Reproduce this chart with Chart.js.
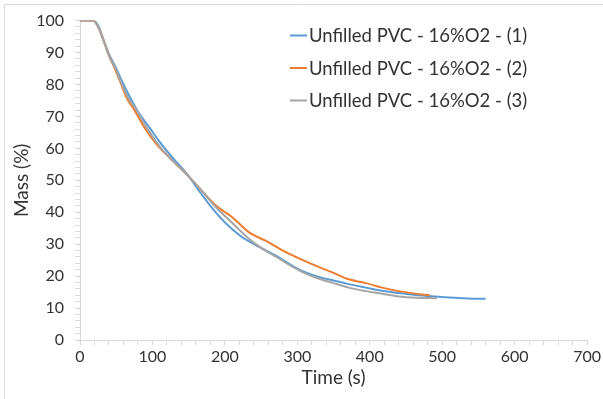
<!DOCTYPE html>
<html>
<head>
<meta charset="utf-8">
<script src="https://cdn.jsdelivr.net/npm/chart.js@4/dist/chart.umd.min.js"></script>
<style>
  html, body { margin: 0; padding: 0; background: #fff; }
  #wrap { width: 603px; height: 399px; }
</style>
</head>
<body>
<div id="wrap"><canvas id="c" width="603" height="399"></canvas></div>
<script>
const seriesLabels = [
  "Unfilled PVC - 16%O2 - (1)",
  "Unfilled PVC - 16%O2 - (2)",
  "Unfilled PVC - 16%O2 - (3)"
];
const seriesColors = ["#5B9BD5", "#ED7D31", "#A5A5A5"];

const time1 = [0, 18, 25, 33, 40, 48, 57, 69, 80, 96, 110, 128, 140, 151, 165, 180, 195, 211, 225, 240, 257, 275, 289, 305, 326, 350, 371, 395, 417, 440, 463, 490, 509, 535, 560];
const mass1 = [100, 100, 98.5, 93.7, 89.5, 86, 81.5, 76, 71.5, 66.5, 62, 57, 54, 51, 46.5, 42, 38, 34.5, 32, 30, 28, 25.8, 23.8, 21.8, 20, 18.6, 17.5, 16.4, 15.4, 14.7, 14.1, 13.6, 13.3, 13.0, 12.9];

const time2 = [0, 18, 25, 33, 40, 48, 57, 64, 75, 89, 105, 124, 140, 151, 165, 188, 211, 234, 257, 280, 300, 326, 350, 371, 395, 417, 440, 460, 483];
const mass2 = [100, 100, 98, 93.5, 89, 85, 80, 76, 72, 66.5, 61.5, 57, 53.5, 51, 47.5, 42, 38.3, 33.6, 31, 28, 25.8, 23.2, 21, 19, 17.8, 16.4, 15.3, 14.6, 14.0];

const time3 = [0, 18, 25, 33, 40, 48, 57, 66, 78, 92, 107, 124, 140, 151, 165, 188, 211, 234, 257, 275, 289, 305, 326, 350, 371, 395, 417, 440, 465, 493];
const mass3 = [100, 100, 98, 93.5, 89, 85.5, 80.5, 76, 72, 66.5, 61.5, 57, 53.5, 51, 47.5, 41.5, 36.5, 31.5, 27.8, 25.5, 23.5, 21.5, 19.5, 17.8, 16.4, 15.3, 14.5, 13.6, 13.2, 13.1];

const xTickMin = 0, xTickMax = 700, xMajor = 100, xMinor = 20;
const yTickMin = 0, yTickMax = 100, yMajor = 10, yMinor = 2;

const FONT = "Lato, 'Open Sans', sans-serif";
const TEXT = "#333333";
const AXIS = "#D9D9D9";

function pts(t, m) { return t.map((v, i) => ({ x: v, y: m[i] })); }

const times = [time1, time2, time3];
const masses = [mass1, mass2, mass3];

const datasets = seriesLabels.map((lab, i) => ({
  label: lab,
  data: pts(times[i], masses[i]),
  borderColor: seriesColors[i],
  backgroundColor: seriesColors[i],
  borderWidth: 2,
  pointRadius: 0,
  fill: false,
  cubicInterpolationMode: 'monotone',
  order: 2 - i
}));

const decor = {
  id: 'decor',
  beforeDraw(chart) {
    const ctx = chart.ctx;
    ctx.save();
    ctx.fillStyle = '#fff';
    ctx.fillRect(0, 0, chart.width, chart.height);
    ctx.strokeStyle = AXIS;
    ctx.lineWidth = 1;
    ctx.beginPath();
    ctx.moveTo(4.5, chart.height);
    ctx.lineTo(4.5, 4.5);
    ctx.lineTo(chart.width, 4.5);
    ctx.stroke();
    ctx.restore();
  },
  afterDraw(chart) {
    const ctx = chart.ctx;
    ctx.save();
    ctx.font = "18.5px " + FONT;
    ctx.textBaseline = 'middle';
    ctx.textAlign = 'left';
    chart.data.datasets.forEach((ds, i) => {
      const y = 35.5 + i * 32.5;
      ctx.strokeStyle = ds.borderColor;
      ctx.lineWidth = 2;
      ctx.beginPath();
      ctx.moveTo(290, y);
      ctx.lineTo(307, y);
      ctx.stroke();
      ctx.fillStyle = TEXT;
      ctx.fillText(ds.label, 309, y + 1);
    });
    ctx.restore();
  }
};

new Chart(document.getElementById('c'), {
  type: 'line',
  data: { datasets },
  plugins: [decor],
  options: {
    responsive: false,
    animation: false,
    layout: { padding: { top: 20, right: 14, left: 0, bottom: 0 } },
    plugins: { legend: { display: false }, tooltip: { enabled: false } },
    scales: {
      x: {
        type: 'linear',
        min: xTickMin, max: xTickMax,
        afterFit(s) { s.height = 59; },
        ticks: {
          stepSize: xMinor, autoSkip: false, maxRotation: 0,
          padding: 2,
          color: TEXT, font: { family: FONT, size: 16 },
          callback: v => (v % xMajor === 0 ? String(v) : '')
        },
        grid: { drawOnChartArea: false, drawTicks: true, tickLength: 5, color: AXIS },
        border: { color: AXIS },
        title: { display: true, text: 'Time (s)', color: TEXT, font: { family: FONT, size: 19 }, padding: { top: 0, bottom: 10 } }
      },
      y: {
        min: yTickMin, max: yTickMax,
        afterFit(s) { s.width = 80; },
        ticks: {
          stepSize: yMinor, autoSkip: false,
          padding: 11,
          color: TEXT, font: { family: FONT, size: 16 },
          callback: v => (v % yMajor === 0 ? String(v) : '')
        },
        grid: { drawOnChartArea: false, drawTicks: true, tickLength: 5, color: AXIS },
        border: { color: AXIS },
        title: { display: true, text: 'Mass (%)', color: TEXT, font: { family: FONT, size: 19 }, padding: { top: 10, bottom: 0 } }
      }
    }
  }
});
</script>
</body>
</html>
